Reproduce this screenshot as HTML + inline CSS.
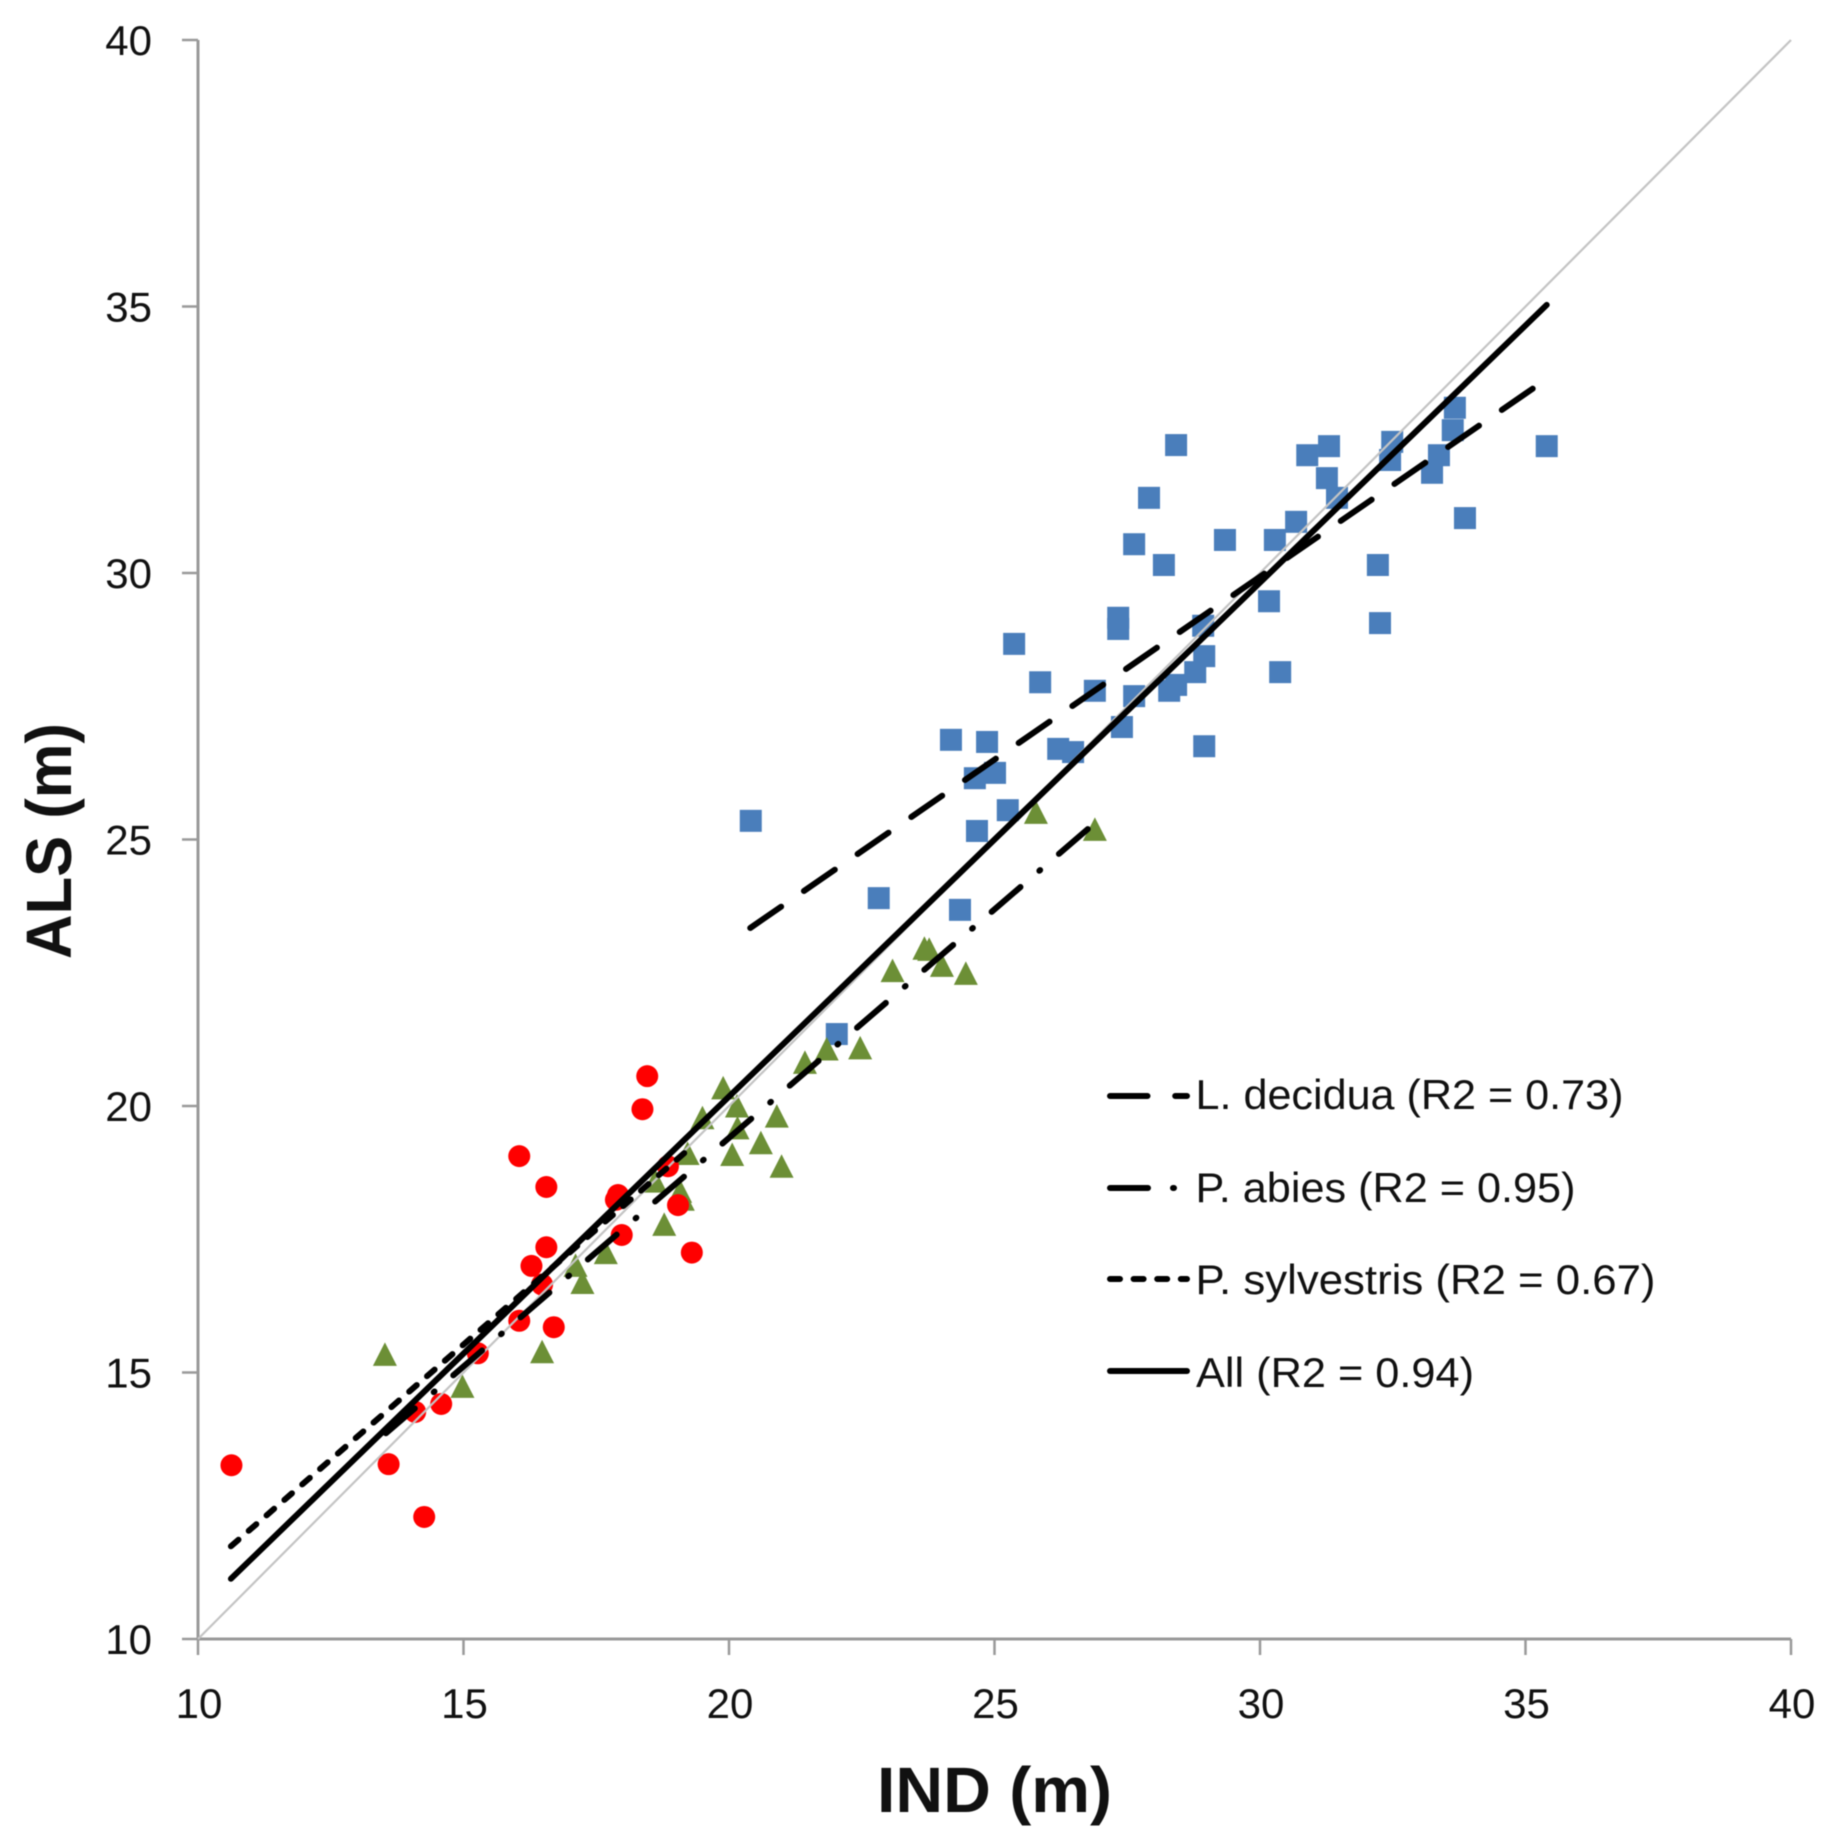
<!DOCTYPE html>
<html lang="en">
<head>
<meta charset="utf-8">
<title>ALS vs IND tree height scatter chart</title>
<style>
html,body{margin:0;padding:0;background:#fff;width:1832px;height:1839px;overflow:hidden}
svg{display:block;filter:blur(0.5px)}
text{font-family:"Liberation Sans",sans-serif;fill:#111}
</style>
</head>
<body>
<svg id="chart" xmlns="http://www.w3.org/2000/svg" width="1832" height="1839" viewBox="0 0 1832 1839"></svg>
<script>
const xTicks = [10, 15, 20, 25, 30, 35, 40];
const yTicks = [10, 15, 20, 25, 30, 35, 40];

const deciduaX = [20.41,22.82,22.03,24.35,24.18,24.86,24.63,25.01,24.67,25.25,25.37,25.86,26.20,26.48,26.89,27.33,27.33,27.40,27.63,27.63,27.91,28.19,28.29,28.42,28.42,28.78,28.95,28.93,28.95,29.34,30.17,30.28,30.38,30.68,30.89,31.26,31.30,31.45,32.22,32.26,32.45,32.49,33.24,33.37,33.63,33.67,33.86,35.40];
const deciduaY = [25.35,23.90,21.35,23.68,26.87,26.83,26.15,26.25,25.16,25.55,28.67,27.95,26.70,26.64,27.79,29.16,28.95,27.11,30.54,27.69,31.41,30.15,27.79,27.90,32.40,28.14,28.44,29.01,26.75,30.62,29.47,30.62,28.14,30.96,32.21,31.78,32.38,31.41,30.15,29.06,32.12,32.46,31.88,32.21,32.68,33.10,31.03,32.38];

const abiesX = [26.89,25.78,24.46,24.01,23.77,23.68,23.08,22.47,21.84,21.43,20.90,20.99,20.60,20.15,20.16,20.06,19.89,19.50,19.22,18.61,19.08,19.13,18.78,17.68,17.11,17.24,16.48,14.98,13.52];
const abiesY = [25.18,25.50,22.48,22.63,22.93,22.95,22.53,21.08,21.06,20.81,19.80,18.86,19.30,19.99,19.58,19.08,20.33,19.77,19.10,18.58,18.39,18.24,17.77,17.24,17.00,16.68,15.38,14.73,15.33];

const sylvestrisX = [10.63,13.59,14.26,14.09,14.58,15.27,16.05,16.70,16.48,16.28,16.56,16.56,16.05,18.37,18.46,17.91,17.87,17.98,18.85,19.04,19.30];
const sylvestrisY = [13.26,13.28,12.29,14.26,14.41,15.36,15.97,15.85,16.65,17.00,17.35,18.48,19.06,19.94,20.56,18.33,18.24,17.58,18.87,18.14,17.25];

const identityLineX = [10, 40];
const identityLineY = [10, 40];
const deciduaFitX = [20.40, 35.24];
const deciduaFitY = [23.34, 33.53];
const abiesFitX = [13.54, 26.89];
const abiesFitY = [13.86, 25.31];
const sylvestrisFitX = [10.62, 19.30];
const sylvestrisFitY = [11.74, 19.24];
const allFitX = [10.62, 35.40];
const allFitY = [11.13, 35.03];

const legendLabels = ["L. decidua (R2 = 0.73)", "P. abies (R2 = 0.95)", "P. sylvestris (R2 = 0.67)", "All (R2 = 0.94)"];

const NS = "http://www.w3.org/2000/svg";
const svg = document.getElementById("chart");
const xScale = v => 198 + (v - 10) * 53.1;
const yScale = v => 1639 - (v - 10) * 53.3;

const AXIS = "#999999";
const DASH_DECIDUA = "37.5 27.7";
const DASH_ABIES = "38 25 1 24.8";
const DASH_SYLV = "10 13.6";
const LINE_W = 6;

function make(tag, attrs, parent) {
  const el = document.createElementNS(NS, tag);
  for (const k in attrs) el.setAttribute(k, attrs[k]);
  (parent || svg).appendChild(el);
  return el;
}

function group(name) {
  const g = document.createElementNS(NS, "g");
  
  
  svg.appendChild(g);
  return g;
}

// Axes
const axisGroup = group("axes");
const xAxisLine = make("line", {x1: xScale(10), y1: yScale(10), x2: xScale(40), y2: yScale(10), stroke: AXIS, "stroke-width": 3}, axisGroup);


const yAxisLine = make("line", {x1: xScale(10), y1: yScale(10), x2: xScale(10), y2: yScale(40), stroke: AXIS, "stroke-width": 3}, axisGroup);



xTicks.forEach(t => {
  const tick = make("line", {x1: xScale(t), y1: yScale(10), x2: xScale(t), y2: yScale(10) + 16, stroke: AXIS, "stroke-width": 2.5}, axisGroup);
  
  
  const label = make("text", {x: xScale(t) + 1, y: 1718, "font-size": 42, "text-anchor": "middle"}, axisGroup);
  
  
  label.textContent = t;
});

yTicks.forEach(t => {
  const tick = make("line", {x1: xScale(10) - 16, y1: yScale(t), x2: xScale(10), y2: yScale(t), stroke: AXIS, "stroke-width": 2.5}, axisGroup);
  
  
  const label = make("text", {x: 152, y: yScale(t) + 15, "font-size": 42, "text-anchor": "end"}, axisGroup);
  
  
  label.textContent = t;
});

// Axis titles
const xTitle = make("text", {x: 877, y: 1812, "font-size": 64, "font-weight": "bold", textLength: 235, lengthAdjust: "spacingAndGlyphs"});


xTitle.textContent = "IND (m)";
const yTitle = make("text", {transform: "translate(71 959) rotate(-90)", x: 0, y: 0, "font-size": 64, "font-weight": "bold", textLength: 236, lengthAdjust: "spacingAndGlyphs"});


yTitle.textContent = "ALS (m)";

// Markers
const squareGroup = group("l-decidua-points");
deciduaX.forEach((v, i) => {
  const s = make("rect", {x: xScale(v) - 11, y: yScale(deciduaY[i]) - 11, width: 22, height: 22, fill: "#4a7ebb"}, squareGroup);
  
  
});

const triangleGroup = group("p-abies-points");
abiesX.forEach((v, i) => {
  const cx = xScale(v), cy = yScale(abiesY[i]);
  const t = make("polygon", {points: `${cx},${cy - 12.5} ${cx + 12},${cy + 11} ${cx - 12},${cy + 11}`, fill: "#6c8f36"}, triangleGroup);
  
  
});

const circleGroup = group("p-sylvestris-points");
sylvestrisX.forEach((v, i) => {
  const c = make("circle", {cx: xScale(v), cy: yScale(sylvestrisY[i]), r: 11, fill: "#ff0000"}, circleGroup);
  
  
});

// Lines
const identity = make("line", {x1: xScale(identityLineX[0]), y1: yScale(identityLineY[0]), x2: xScale(identityLineX[1]), y2: yScale(identityLineY[1]), stroke: "#c4c4c4", "stroke-width": 2.2});



const sylvFit = make("line", {x1: xScale(sylvestrisFitX[0]), y1: yScale(sylvestrisFitY[0]), x2: xScale(sylvestrisFitX[1]), y2: yScale(sylvestrisFitY[1]), stroke: "#000", "stroke-width": LINE_W, "stroke-linecap": "round", "stroke-dasharray": DASH_SYLV});



const abiesFit = make("line", {x1: xScale(abiesFitX[0]), y1: yScale(abiesFitY[0]), x2: xScale(abiesFitX[1]), y2: yScale(abiesFitY[1]), stroke: "#000", "stroke-width": LINE_W, "stroke-linecap": "round", "stroke-dasharray": DASH_ABIES});



const deciduaFit = make("line", {x1: xScale(deciduaFitX[0]), y1: yScale(deciduaFitY[0]), x2: xScale(deciduaFitX[1]), y2: yScale(deciduaFitY[1]), stroke: "#000", "stroke-width": LINE_W, "stroke-linecap": "round", "stroke-dasharray": DASH_DECIDUA});



const allFit = make("line", {x1: xScale(allFitX[0]), y1: yScale(allFitY[0]), x2: xScale(allFitX[1]), y2: yScale(allFitY[1]), stroke: "#000", "stroke-width": LINE_W, "stroke-linecap": "round"});



// Legend
const legendGroup = group("legend");
const legendLineY = [1096, 1188, 1279, 1371];
const legendTextY = [1109, 1202, 1294, 1387];
const legendTextX = [1195.5, 1195.5, 1195.5, 1196];
const legendTextW = [428, 380, 460, 278];
const legendDash = [DASH_DECIDUA, DASH_ABIES, DASH_SYLV, "none"];
legendLabels.forEach((txt, i) => {
  const sw = make("line", {x1: 1110, y1: legendLineY[i], x2: 1187, y2: legendLineY[i], stroke: "#000", "stroke-width": LINE_W, "stroke-linecap": "round", "stroke-dasharray": legendDash[i]}, legendGroup);
  
  
  const label = make("text", {x: legendTextX[i], y: legendTextY[i], "font-size": 42, textLength: legendTextW[i], lengthAdjust: "spacingAndGlyphs"}, legendGroup);
  
  
  label.textContent = txt;
});
</script>
</body>
</html>
